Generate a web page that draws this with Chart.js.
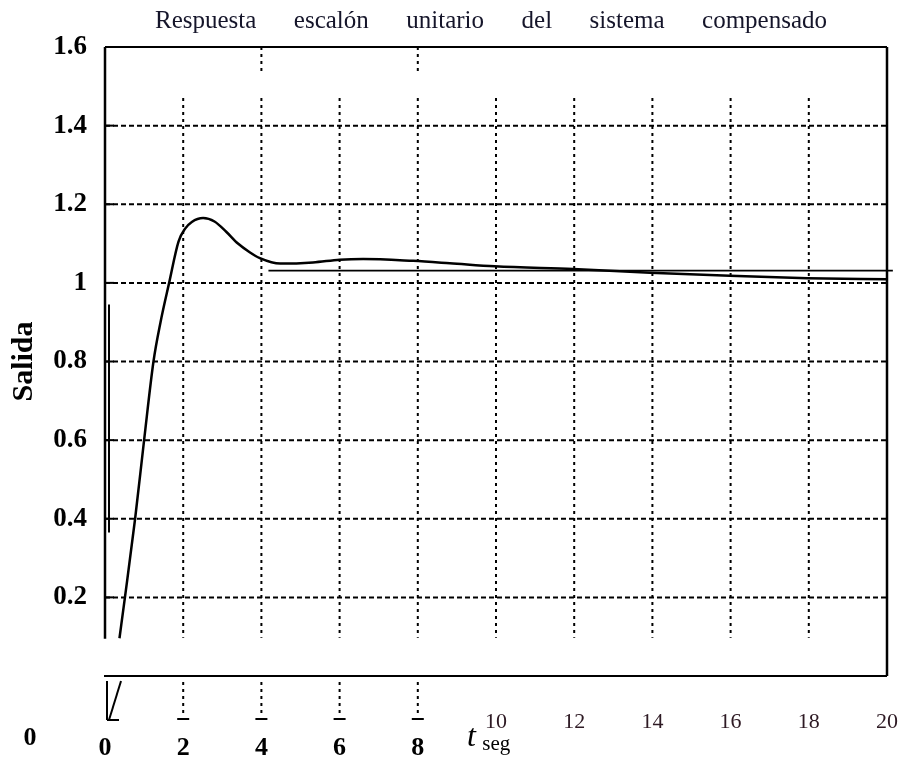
<!DOCTYPE html>
<html>
<head>
<meta charset="utf-8">
<script src="https://cdn.jsdelivr.net/npm/chart.js@4.4.1/dist/chart.umd.min.js"></script>
<style>
  html, body { margin: 0; padding: 0; background: #fff; }
  #wrap { width: 904px; height: 760px; position: relative; }
</style>
</head>
<body>
<div id="wrap"><canvas id="step"></canvas></div>
<script>
// Respuesta escalón
const tSeg   = [0.37, 0.51, 0.77, 1.0, 1.24, 1.42, 1.64, 1.88, 2.05, 2.22, 2.51, 2.8, 3.1, 3.4, 3.7, 3.96, 4.48, 5.32, 6.0, 6.6, 7.88, 8.82, 9.97, 11.97, 13.94, 15.98, 17.97, 20];
const salida = [0.096, 0.2, 0.4, 0.6, 0.8, 0.9, 1.0, 1.105, 1.138, 1.155, 1.165, 1.156, 1.13, 1.1, 1.078, 1.063, 1.049, 1.052, 1.059, 1.061, 1.056, 1.05, 1.042, 1.035, 1.026, 1.018, 1.012, 1.009];
const refT     = [4.18, 20.15];
const refLevel = [1.031, 1.031];
const xTicks = [0, 2, 4, 6, 8, 10, 12, 14, 16, 18, 20];
const yTicks = [0.2, 0.4, 0.6, 0.8, 1, 1.2, 1.4, 1.6];

const TITLE = 'Respuesta      escalón      unitario      del      sistema      compensado';
const SERIF = '"Liberation Serif", "DejaVu Serif", serif';

function seg(ctx, x1, y1, x2, y2) {
  ctx.beginPath(); ctx.moveTo(x1, y1); ctx.lineTo(x2, y2); ctx.stroke();
}

// grid + frame drawn the way the old plot has it (partial dashed grid, broken frame)
const frame = {
  id: 'frame',
  beforeDatasetsDraw(chart) {
    const { ctx, chartArea: a, scales: { x, y } } = chart;
    ctx.save();
    ctx.strokeStyle = '#000';
    ctx.lineWidth = 2;

    ctx.setLineDash([5, 3]);
    yTicks.filter(v => v < 1.6).forEach(v => {
      const py = y.getPixelForValue(v);
      seg(ctx, a.left, py, a.right, py);
    });

    ctx.setLineDash([3, 4]);
    xTicks.filter(v => v > 0 && v < 20).forEach(v => {
      const px = x.getPixelForValue(v);
      seg(ctx, px, y.getPixelForValue(1.47), px, y.getPixelForValue(0.097));
      if (v < 10) seg(ctx, px, a.bottom + 6, px, a.bottom + 40);
    });
    [4, 8].forEach(v => {
      const px = x.getPixelForValue(v);
      seg(ctx, px, a.top, px, a.top + 28);
    });

    ctx.setLineDash([]);
    // ⊥ marks under the axis
    xTicks.filter(v => v > 0 && v < 10).forEach(v => {
      const px = x.getPixelForValue(v);
      seg(ctx, px - 6, a.bottom + 43, px + 6, a.bottom + 43);
    });
    const x0 = x.getPixelForValue(0);
    seg(ctx, x0 + 2, a.bottom + 5, x0 + 2, a.bottom + 44);
    seg(ctx, x0 + 2, a.bottom + 44, x0 + 14, a.bottom + 44);
    seg(ctx, x0 + 4, a.bottom + 44, x0 + 16, a.bottom + 5);

    // y tick stubs
    yTicks.forEach(v => {
      const py = y.getPixelForValue(v);
      seg(ctx, a.left, py, a.left + 9, py);
    });

    // frame
    seg(ctx, a.left, a.top, a.right, a.top);
    seg(ctx, a.left - 1, a.bottom, a.right, a.bottom);
    ctx.lineWidth = 2.5;
    seg(ctx, a.left, a.top, a.left, y.getPixelForValue(0.095));
    seg(ctx, a.right, a.top, a.right, a.bottom);
    ctx.lineWidth = 2;
    seg(ctx, a.left + 4, y.getPixelForValue(0.945), a.left + 4, y.getPixelForValue(0.365));
    ctx.restore();
  },
  afterDraw(chart) {
    const { ctx, chartArea: a, scales: { x } } = chart;
    ctx.save();
    ctx.fillStyle = '#15152a';
    ctx.textAlign = 'center';
    ctx.textBaseline = 'middle';
    ctx.font = '25px ' + SERIF;
    ctx.fillText(TITLE, (a.left + a.right) / 2 - 5, 21);

    // stray "0" of the y axis, printed low in the scan
    ctx.fillStyle = '#000';
    ctx.font = 'bold 26px ' + SERIF;
    ctx.fillText('0', a.left - 75, a.bottom + 62);

    // t seg
    const tx = x.getPixelForValue(9.37);
    ctx.font = 'italic 32px ' + SERIF;
    ctx.fillText('t', tx, a.bottom + 62);
    ctx.font = '21px ' + SERIF;
    ctx.textAlign = 'left';
    ctx.fillText('seg', tx + 11, a.bottom + 68);
    ctx.restore();
  }
};

new Chart(document.getElementById('step'), {
  type: 'line',
  data: {
    datasets: [
      {
        label: 'Salida',
        data: tSeg.map((t, i) => ({ x: t, y: salida[i] })),
        borderColor: '#000',
        borderWidth: 2.5,
        pointRadius: 0,
        cubicInterpolationMode: 'monotone'
      },
      {
        label: 'ref',
        data: refT.map((t, i) => ({ x: t, y: refLevel[i] })),
        borderColor: '#000',
        borderWidth: 1.8,
        pointRadius: 0,
        clip: false
      }
    ]
  },
  options: {
    responsive: true, maintainAspectRatio: false,
    animation: false,
    layout: { padding: { top: 47, right: 17, bottom: 0, left: 0 } },
    plugins: { legend: { display: false }, tooltip: { enabled: false }, title: { display: false } },
    scales: {
      x: {
        type: 'linear', min: 0, max: 20,
        grid: { display: false }, border: { display: false },
        afterBuildTicks: s => { s.ticks = xTicks.map(v => ({ value: v })); },
        afterFit: s => { s.height = 84; s.paddingLeft = 0; s.paddingRight = 0; },
        ticks: {
          autoSkip: false, maxRotation: 0, padding: 25,
          color: ctx => ctx.tick && ctx.tick.value >= 10 ? '#2e1a24' : '#000',
          font: ctx => ctx.tick && ctx.tick.value >= 10
            ? { family: SERIF, size: 22, lineHeight: '26px' }
            : { family: SERIF, size: 26, weight: 'bold', lineHeight: '26px' },
          callback: v => v >= 10 ? [String(v), ''] : ['', String(v)]
        }
      },
      y: {
        min: 0, max: 1.6,
        grid: { display: false }, border: { display: false },
        afterBuildTicks: s => { s.ticks = yTicks.map(v => ({ value: v })); },
        afterFit: s => { s.width = 105; },
        ticks: {
          color: '#000', padding: 10,
          font: { family: SERIF, size: 27, weight: 'bold' },
          callback: v => String(Math.round(v * 10) / 10)
        },
        title: {
          display: true, text: 'Salida', color: '#000',
          font: { family: SERIF, size: 30, weight: 'bold' },
          padding: { top: 6, bottom: 0 }
        }
      }
    }
  },
  plugins: [frame]
});
</script>
</body>
</html>
